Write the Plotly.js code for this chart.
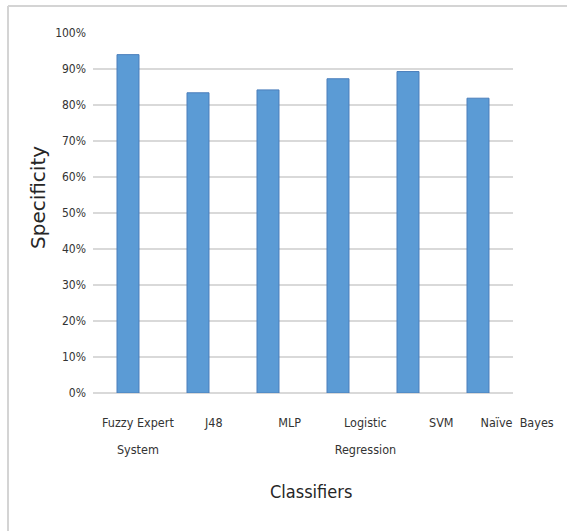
<!DOCTYPE html>
<html>
<head>
<meta charset="utf-8">
<script src="https://cdn.plot.ly/plotly-3.0.1.min.js"></script>
<style>html,body{margin:0;padding:0;background:#fff;}#chart{width:567px;height:531px;}</style>
</head>
<body>
<div id="chart"></div>
<script>
// Data
const categories = ["Fuzzy Expert System", "J48", "MLP", "Logistic Regression", "SVM", "Naïve Bayes"];
const specificity = [0.940, 0.834, 0.842, 0.873, 0.893, 0.819];
const labelLine1 = ["Fuzzy Expert", "J48", "MLP", "Logistic", "SVM", "Naïve\u00a0 Bayes"];
const labelLine2 = ["System", "", "", "Regression", "", ""];
const yTickVals = [0, 0.1, 0.2, 0.3, 0.4, 0.5, 0.6, 0.7, 0.8, 0.9, 1.0];

const W = 567, H = 531;
const mL = 93, mR = 7, mT = 33, mB = 138;
const pw = W - mL - mR, ph = H - mT - mB;
const px = v => (v - mL) / pw;          // pixel -> paper x
const py = v => (H - mB - v) / ph;      // pixel -> paper y

const FONT = "'DejaVu Sans Condensed', 'Liberation Sans Narrow', sans-serif";
const idx = categories.map((_, i) => i);

const traces = [
  {
    type: "bar",
    x: categories,
    y: specificity,
    xaxis: "x", yaxis: "y",
    marker: { color: "#5b9bd5", line: { color: "#4a7ebb", width: 1 } },
    hoverinfo: "skip"
  },
  {
    type: "scatter", mode: "markers",
    x: idx, y: specificity, xaxis: "x2", yaxis: "y2",
    marker: { opacity: 0 }, hoverinfo: "skip", showlegend: false
  },
  {
    type: "scatter", mode: "markers",
    x: idx, y: specificity, xaxis: "x3", yaxis: "y2",
    marker: { opacity: 0 }, hoverinfo: "skip", showlegend: false
  }
];

const labDom = [px(100), px(555)];
const layout = {
  width: W, height: H,
  margin: { l: mL, r: mR, t: mT, b: mB, pad: 0 },
  paper_bgcolor: "#ffffff",
  plot_bgcolor: "rgba(0,0,0,0)",
  showlegend: false,
  bargap: 0.686,
  font: { family: FONT, color: "#333333", size: 12 },
  xaxis: {
    type: "category", domain: [0, px(513)], anchor: "y",
    categoryorder: "array", categoryarray: categories,
    showticklabels: false, showgrid: false, zeroline: false, showline: false, ticks: ""
  },
  yaxis: {
    domain: [0, 1], anchor: "x",
    range: [0, 1.0001],
    tickvals: yTickVals, tickformat: ".0%",
    showgrid: true, gridcolor: "#d9d9d9", gridwidth: 1.5,
    zeroline: true, zerolinecolor: "#d9d9d9", zerolinewidth: 1.5,
    showline: false, ticks: "", ticklabelstandoff: 6,
    tickfont: { family: FONT, size: 12, color: "#333333" }
  },
  xaxis2: {
    type: "linear", domain: labDom, anchor: "y2",
    range: [-0.5, 5.5], tickvals: idx, ticktext: labelLine1,
    showgrid: false, zeroline: false, showline: false,
    ticks: "outside", ticklen: 18, tickcolor: "rgba(0,0,0,0)",
    tickfont: { family: FONT, size: 12.5, color: "#333333" }
  },
  xaxis3: {
    type: "linear", domain: labDom, anchor: "y2",
    range: [-0.5, 5.5], tickvals: idx, ticktext: labelLine2,
    showgrid: false, zeroline: false, showline: false,
    ticks: "outside", ticklen: 45, tickcolor: "rgba(0,0,0,0)",
    tickfont: { family: FONT, size: 12.5, color: "#333333" }
  },
  yaxis2: {
    domain: [0, 1], anchor: "x2", range: [0, 1.0001],
    visible: false, showgrid: false, zeroline: false
  },
  annotations: [
    {
      text: "Specificity", textangle: -90,
      xref: "paper", yref: "paper", x: px(38), y: py(198),
      xanchor: "center", yanchor: "middle", showarrow: false,
      font: { family: "'DejaVu Sans', sans-serif", size: 20, color: "#262626" }
    },
    {
      text: "Classifiers",
      xref: "paper", yref: "paper", x: px(311), y: py(492),
      xanchor: "center", yanchor: "middle", showarrow: false,
      font: { family: FONT, size: 18, color: "#262626" }
    }
  ],
  shapes: [
    { type: "line", xref: "paper", yref: "paper", x0: px(8), x1: px(567), y0: py(6), y1: py(6),
      line: { color: "#d4d4d4", width: 2 } },
    { type: "line", xref: "paper", yref: "paper", x0: px(8), x1: px(8), y0: py(6), y1: py(531),
      line: { color: "#d4d4d4", width: 2 } }
  ]
};

Plotly.newPlot("chart", traces, layout, { staticPlot: true, displayModeBar: false });
</script>
</body>
</html>
